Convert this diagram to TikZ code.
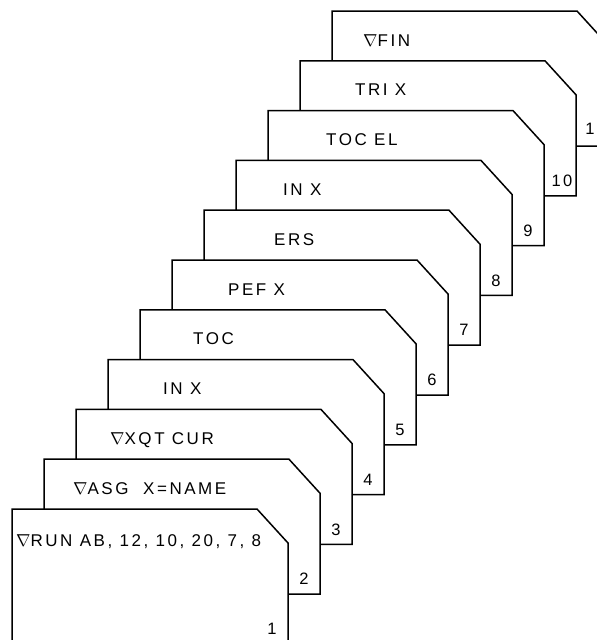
\documentclass[tikz,border=0pt]{standalone}
\usepackage{fontspec}
\setmainfont{Liberation Sans}[LetterSpace=15]
\begin{document}
\begin{tikzpicture}[x=1pt,y=-1pt,
  card/.style={draw, fill=white, line width=1.5pt},
  tag/.style={anchor=base west, inner sep=0pt, font=\fontsize{17}{18}\selectfont},
  num/.style={inner sep=0pt, font=\fontsize{16.5}{18}\selectfont}]
\path[use as bounding box, clip] (0,0) rectangle (597,640);
\filldraw[card] (332,11) -- ++(245,0) -- ++(31,34) -- ++(0,101) -- ++(-276,0) -- cycle;
\node[tag] (tag11) at (363,46) {$\nabla$FIN};
\node[num] (num11) at (590,129) {1};
\filldraw[card] (300,60.8) -- ++(245,0) -- ++(31,34) -- ++(0,101) -- ++(-276,0) -- cycle;
\node[tag] (tag10) at (355,95.8) {TRI X};
\node[num] (num10) at (562,180.8) {10};
\filldraw[card] (268,110.6) -- ++(245,0) -- ++(31,34) -- ++(0,101) -- ++(-276,0) -- cycle;
\node[tag] (tag9) at (326,145.6) {TOC EL};
\node[num] (num9) at (528,230.6) {9};
\filldraw[card] (236,160.4) -- ++(245,0) -- ++(31,34) -- ++(0,101) -- ++(-276,0) -- cycle;
\node[tag] (tag8) at (283,195.4) {IN X};
\node[num] (num8) at (496,280.4) {8};
\filldraw[card] (204,210.2) -- ++(245,0) -- ++(31,34) -- ++(0,101) -- ++(-276,0) -- cycle;
\node[tag] (tag7) at (274,245.2) {ERS};
\node[num] (num7) at (464,330.2) {7};
\filldraw[card] (172,260) -- ++(245,0) -- ++(31,34) -- ++(0,101) -- ++(-276,0) -- cycle;
\node[tag] (tag6) at (228,295) {PEF X};
\node[num] (num6) at (432,380) {6};
\filldraw[card] (140,309.8) -- ++(245,0) -- ++(31,34) -- ++(0,101) -- ++(-276,0) -- cycle;
\node[tag] (tag5) at (193,344.8) {TOC};
\node[num] (num5) at (400,429.8) {5};
\filldraw[card] (108,359.6) -- ++(245,0) -- ++(31,34) -- ++(0,101) -- ++(-276,0) -- cycle;
\node[tag] (tag4) at (163,394.6) {IN X};
\node[num] (num4) at (368,479.6) {4};
\filldraw[card] (76,409.4) -- ++(245,0) -- ++(31,34) -- ++(0,101) -- ++(-276,0) -- cycle;
\node[tag] (tag3) at (110,444.4) {$\nabla$XQT CUR};
\node[num] (num3) at (336,529.4) {3};
\filldraw[card] (44,459.2) -- ++(245,0) -- ++(31,34) -- ++(0,101) -- ++(-276,0) -- cycle;
\node[tag] (tag2) at (73,494.2) {$\nabla$ASG\ \ X=NAME};
\node[num] (num2) at (304,579.2) {2};
\filldraw[card] (12,509) -- ++(245,0) -- ++(31,34) -- ++(0,101) -- ++(-276,0) -- cycle;
\node[tag] (tag1) at (16,546) {$\nabla$RUN AB, 12, 10, 20, 7, 8};
\node[num] (num1) at (272,629) {1};
\end{tikzpicture}
\end{document}
